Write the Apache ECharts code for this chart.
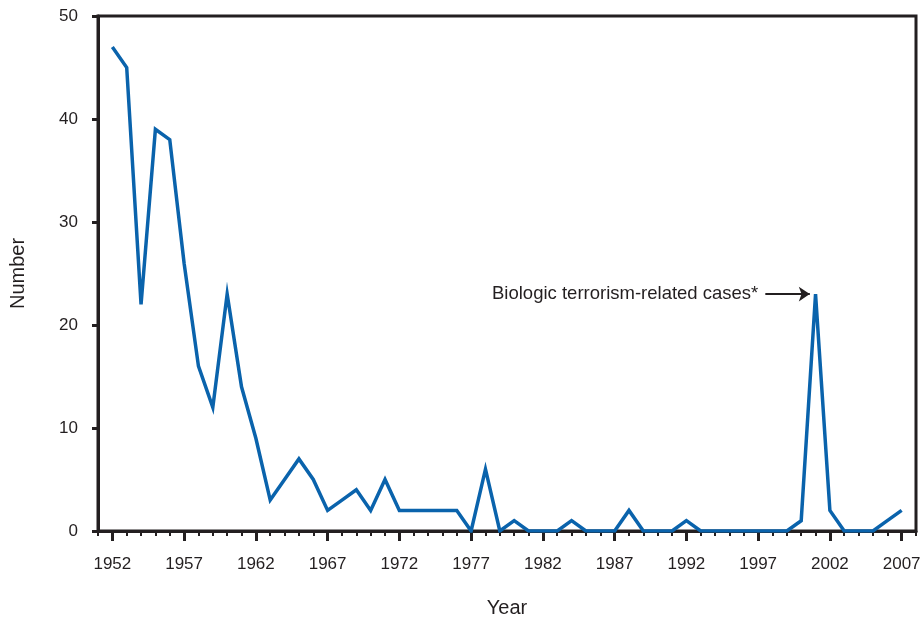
<!DOCTYPE html>
<html>
<head>
<meta charset="utf-8">
<script src="https://cdn.jsdelivr.net/npm/echarts@6/dist/echarts.min.js"></script>
<style>html,body{margin:0;padding:0;background:#fff}#c{width:924px;height:620px}</style>
</head>
<body>
<div id="c"></div>
<script>
var years = [1952,1953,1954,1955,1956,1957,1958,1959,1960,1961,1962,1963,1964,1965,1966,1967,1968,1969,1970,1971,1972,1973,1974,1975,1976,1977,1978,1979,1980,1981,1982,1983,1984,1985,1986,1987,1988,1989,1990,1991,1992,1993,1994,1995,1996,1997,1998,1999,2000,2001,2002,2003,2004,2005,2006,2007];
var cases = [47,45,22,39,38,26,16,12,23,14,9,3,5,7,5,2,3,4,2,5,2,2,2,2,2,0,6,0,1,0,0,0,1,0,0,0,2,0,0,0,1,0,0,0,0,0,0,0,1,23,2,0,0,0,1,2];
var axisYears = [];
for (var y = 1951; y <= 2008; y++) axisYears.push(String(y));
var yTicks = [0,10,20,30,40,50];
var annotationText = 'Biologic terrorism-related cases*';

var ink = '#231f20';
var font = 'Liberation Sans, Arial, Helvetica, sans-serif';
var chart = echarts.init(document.getElementById('c'), null, {renderer:'canvas'});
var isMajor = function (yr) { return (Number(yr) - 1952) % 5 === 0; };

chart.setOption({
  animation: false,
  backgroundColor: '#fff',
  textStyle: {fontFamily: font},
  grid: {left: 98, right: 8, top: 16, bottom: 89, containLabel: false, outerBoundsMode: 'none',
    show: true, borderColor: ink, borderWidth: 3, backgroundColor: 'transparent'},
  xAxis: [{
    type: 'value', min: 1951, max: 2008, interval: 1,
    name: 'Year', nameLocation: 'middle', nameGap: 67,
    nameTextStyle: {color: ink, fontSize: 20, fontFamily: font},
    axisLine: {show: true, lineStyle: {color: ink, width: 3}},
    axisTick: {show: true, length: 5, lineStyle: {color: ink, width: 2}},
    splitLine: {show: false},
    axisLabel: {margin: 25, color: ink, fontSize: 17, fontFamily: font,
      showMinLabel: true, showMaxLabel: true,
      formatter: function (v) { return isMajor(v) ? String(v) : ''; }}
  }, {
    type: 'category', data: axisYears, boundaryGap: false, position: 'bottom',
    axisLine: {show: false},
    axisTick: {show: true, length: 10, interval: function (i, v) { return isMajor(v); }, lineStyle: {color: ink, width: 3}},
    axisLabel: {show: false},
    splitLine: {show: false}
  }],
  yAxis: {
    type: 'value', min: yTicks[0], max: yTicks[yTicks.length - 1], interval: 10,
    name: 'Number', nameLocation: 'middle', nameGap: 70, nameRotate: 90,
    nameTextStyle: {color: ink, fontSize: 20, fontFamily: font},
    axisLine: {show: true, lineStyle: {color: ink, width: 3}},
    axisTick: {show: true, length: 6, lineStyle: {color: ink, width: 3}},
    splitLine: {show: false},
    axisLabel: {margin: 20, color: ink, fontSize: 17, fontFamily: font}
  },
  series: [{
    type: 'line', xAxisIndex: 0,
    data: years.map(function (yr, i) { return [yr, cases[i]]; }),
    symbol: 'none', smooth: false,
    lineStyle: {color: '#0a63ac', width: 3.5, join: 'miter'},
    markLine: {
      silent: true, symbol: ['none', 'arrow'], symbolSize: 11,
      lineStyle: {color: ink, width: 2, type: 'solid'},
      label: {show: true, position: 'start', formatter: annotationText, color: ink, fontSize: 18.5, fontFamily: font, distance: 7},
      data: [[{coord: [1997.5, 23]}, {coord: [2000.6, 23]}]]
    }
  }]
});
</script>
</body>
</html>
